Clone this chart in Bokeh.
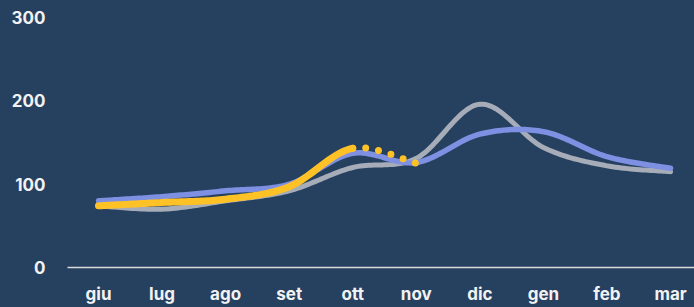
from bokeh.plotting import figure
from bokeh.models import Range1d, FixedTicker
from bokeh.embed import file_html
from bokeh.resources import INLINE

months = ["giu", "lug", "ago", "set", "ott", "nov", "dic", "gen", "feb", "mar"]
gray_vals = [74, 70, 80, 92, 120, 131, 196, 144, 122, 115]
blue_vals = [80, 85, 92, 100, 137, 126, 160, 163, 133, 119]
yellow_vals = [74, 78, 82, 97, 143, 125]
y_ticks = [0, 100, 200, 300]

BG = "#26405F"


def smooth(xs, ys, n=24):
    """Catmull-Rom style Bezier smoothing (like a spreadsheet 'smoothed line')."""
    pts = list(zip(xs, ys))
    outx, outy, seg = [], [], []
    m = len(pts)
    for i in range(m - 1):
        p0 = pts[i - 1] if i > 0 else pts[i]
        p1 = pts[i]
        p2 = pts[i + 1]
        p3 = pts[i + 2] if i + 2 < m else pts[i + 1]
        b1 = (p1[0] + (p2[0] - p0[0]) / 6, p1[1] + (p2[1] - p0[1]) / 6)
        b2 = (p2[0] - (p3[0] - p1[0]) / 6, p2[1] - (p3[1] - p1[1]) / 6)
        for k in range(n + 1):
            if i > 0 and k == 0:
                continue
            t = k / n
            a = (1 - t) ** 3
            b = 3 * (1 - t) ** 2 * t
            c = 3 * (1 - t) * t ** 2
            d = t ** 3
            outx.append(a * p1[0] + b * b1[0] + c * b2[0] + d * p2[0])
            outy.append(a * p1[1] + b * b1[1] + c * b2[1] + d * p2[1])
            seg.append(i)
    return outx, outy, seg


p = figure(width=694, height=307, output_backend="svg", toolbar_location=None,
           x_range=Range1d(-0.488, 9.377), y_range=Range1d(0, 320.4),
           min_border_left=67, min_border_right=0, min_border_top=0, min_border_bottom=40)
p.background_fill_color = BG
p.border_fill_color = BG
p.outline_line_color = None
p.xgrid.visible = False
p.ygrid.visible = False

xs = list(range(len(months)))

gx, gy, _ = smooth(xs, gray_vals)
p.line(gx, gy, line_color="#A7ADB8", line_width=5, line_cap="round", line_join="round")

bx, by, _ = smooth(xs, blue_vals)
p.line(bx, by, line_color="#7E90E2", line_width=5.5, line_cap="round", line_join="round")

yx, yy, yseg = smooth(xs[:len(yellow_vals)], yellow_vals)
last = len(yellow_vals) - 2
solid_x = [x for x, s in zip(yx, yseg) if s < last]
solid_y = [y for y, s in zip(yy, yseg) if s < last]
dot_x = [x for x, s in zip(yx, yseg) if s >= last]
dot_y = [y for y, s in zip(yy, yseg) if s >= last]
p.line(solid_x, solid_y, line_color="#FFC226", line_width=7, line_cap="round", line_join="round")
p.line([solid_x[-1]] + dot_x, [solid_y[-1]] + dot_y, line_color="#FFC226", line_width=7,
       line_cap="round", line_dash="0 13", line_dash_offset=0)

font = "Inter"
xa = p.xaxis[0]
xa.ticker = FixedTicker(ticks=xs)
xa.major_label_overrides = {i: m for i, m in enumerate(months)}
xa.axis_line_color = "#D9D9D9"
xa.axis_line_width = 1.5
xa.major_tick_line_color = None
xa.minor_tick_line_color = None
xa.major_tick_out = 0
xa.major_label_standoff = 16
xa.major_label_text_color = "#F2F2F2"
xa.major_label_text_font = font
xa.major_label_text_font_style = "bold"
xa.major_label_text_font_size = "17px"

ya = p.yaxis[0]
ya.ticker = FixedTicker(ticks=y_ticks)
ya.axis_line_color = None
ya.major_tick_line_color = None
ya.minor_tick_line_color = None
ya.major_tick_out = 0
ya.major_label_standoff = 22
ya.major_label_text_color = "#F2F2F2"
ya.major_label_text_font = font
ya.major_label_text_font_style = "bold"
ya.major_label_text_font_size = "17px"

html = file_html(p, INLINE)
html = html.replace("</head>", "<style>html,body{background:%s;}</style></head>" % BG, 1)
open("out.html", "w").write(html)
